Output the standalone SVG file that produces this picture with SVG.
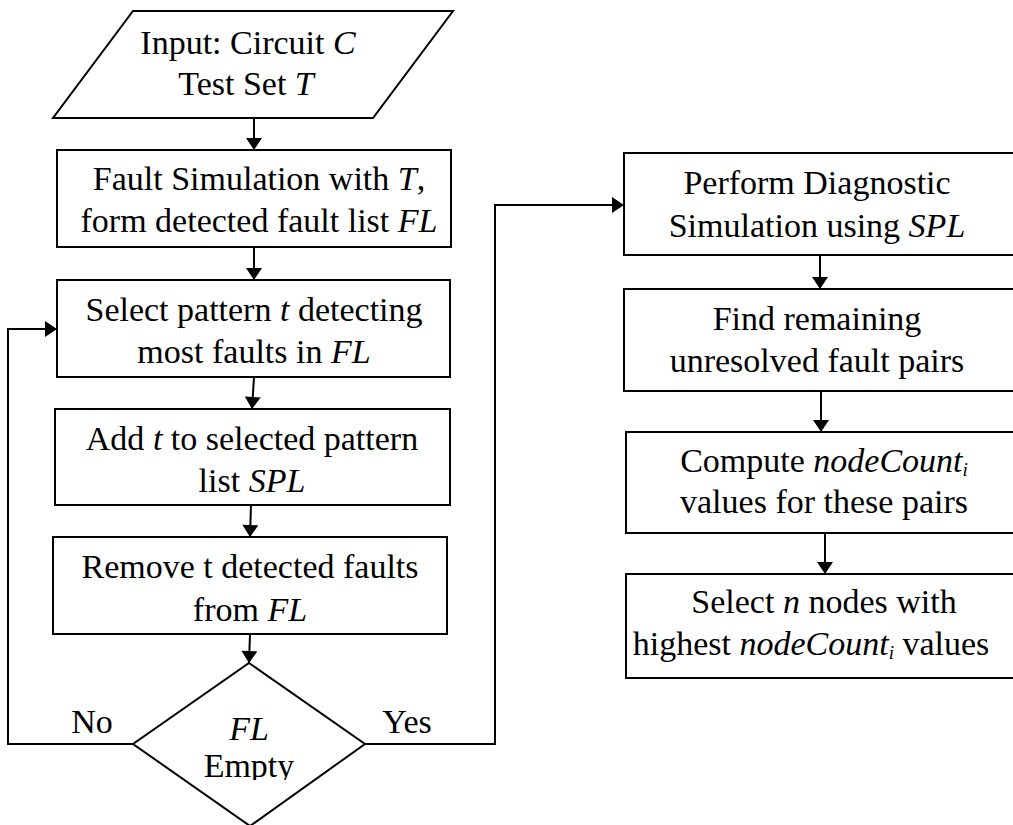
<svg xmlns="http://www.w3.org/2000/svg" width="1013" height="825" viewBox="0 0 1013 825">
  <defs>
    <marker id="arrow" viewBox="0 0 12 16" refX="12" refY="8" markerWidth="13" markerHeight="16" markerUnits="userSpaceOnUse" orient="auto">
      <path d="M0,0 L12,8 L0,16 Z" fill="#000"/>
    </marker>
    <clipPath id="emptyClip">
      <rect x="150" y="745" width="200" height="35"/>
    </clipPath>
  </defs>
  <style>
    .shape { fill: #fff; stroke: #000; stroke-width: 2; }
    .conn { fill: none; stroke: #000; stroke-width: 2; }
    text { font-family: "Liberation Serif", "Times New Roman", serif; font-size: 34px; fill: #000; text-anchor: middle; }
    .v { font-style: italic; }
    .sub { font-style: italic; font-size: 19px; }
  </style>
  <rect width="1013" height="825" fill="#fff"/>

  <!-- connectors -->
  <g id="connectors">
    <path class="conn" d="M254,118 L254,150" marker-end="url(#arrow)"/>
    <path class="conn" d="M254,247 L254,280" marker-end="url(#arrow)"/>
    <path class="conn" d="M254,377 L252,409" marker-end="url(#arrow)"/>
    <path class="conn" d="M251,505 L250,537" marker-end="url(#arrow)"/>
    <path class="conn" d="M250,634 L249,663" marker-end="url(#arrow)"/>
    <path class="conn" d="M133,744 L8,744 L8,329 L57,329" marker-end="url(#arrow)"/>
    <path class="conn" d="M365,744 L495,744 L495,205 L624,205" marker-end="url(#arrow)"/>
    <path class="conn" d="M820,255 L820,289" marker-end="url(#arrow)"/>
    <path class="conn" d="M821,391 L821,432" marker-end="url(#arrow)"/>
    <path class="conn" d="M825,533 L825,574" marker-end="url(#arrow)"/>
    <text x="92" y="733">No</text>
    <text x="407" y="733">Yes</text>
  </g>

  <!-- input -->
  <g id="input">
    <polygon class="shape" points="133,11 453,11 373,118 53,118"/>
    <text x="248" y="54">Input: Circuit <tspan class="v">C</tspan></text>
    <text x="246" y="95">Test Set <tspan class="v">T</tspan></text>
  </g>

  <g id="fault-sim">
    <rect class="shape" x="57" y="150" width="394" height="97"/>
    <text x="259" y="190">Fault Simulation with <tspan class="v">T</tspan>,</text>
    <text x="259" y="232">form detected fault list <tspan class="v">FL</tspan></text>
  </g>

  <g id="select-pattern">
    <rect class="shape" x="57" y="280" width="393" height="97"/>
    <text x="254" y="321">Select pattern <tspan class="v">t</tspan> detecting</text>
    <text x="254" y="363">most faults in <tspan class="v">FL</tspan></text>
  </g>

  <g id="add-pattern">
    <rect class="shape" x="55" y="409" width="395" height="96"/>
    <text x="252" y="450">Add <tspan class="v">t</tspan> to selected pattern</text>
    <text x="252" y="492">list <tspan class="v">SPL</tspan></text>
  </g>

  <g id="remove-faults">
    <rect class="shape" x="53" y="537" width="394" height="97"/>
    <text x="250" y="578">Remove t detected faults</text>
    <text x="250" y="621">from <tspan class="v">FL</tspan></text>
  </g>

  <g id="fl-empty">
    <polygon class="shape" points="249,663 365,744 250,826 133,744"/>
    <text x="249" y="740" class="v">FL</text>
    <text x="249" y="777" clip-path="url(#emptyClip)">Empty</text>
  </g>

  <g id="diag-sim">
    <rect class="shape" x="624" y="153" width="392" height="102"/>
    <text x="817" y="194">Perform Diagnostic</text>
    <text x="817" y="237">Simulation using <tspan class="v">SPL</tspan></text>
  </g>

  <g id="unresolved">
    <rect class="shape" x="624" y="289" width="392" height="102"/>
    <text x="817" y="330">Find remaining</text>
    <text x="817" y="372">unresolved fault pairs</text>
  </g>

  <g id="node-count">
    <rect class="shape" x="626" y="432" width="390" height="101"/>
    <text x="824" y="472">Compute <tspan class="v">nodeCount</tspan><tspan class="sub" dy="4">i</tspan></text>
    <text x="824" y="513">values for these pairs</text>
  </g>

  <g id="select-nodes">
    <rect class="shape" x="626" y="574" width="390" height="104"/>
    <text x="824" y="613">Select <tspan class="v">n</tspan> nodes with</text>
    <text x="811" y="655">highest <tspan class="v">nodeCount</tspan><tspan class="sub" dy="4">i</tspan><tspan dy="-4"> values</tspan></text>
  </g>
</svg>
